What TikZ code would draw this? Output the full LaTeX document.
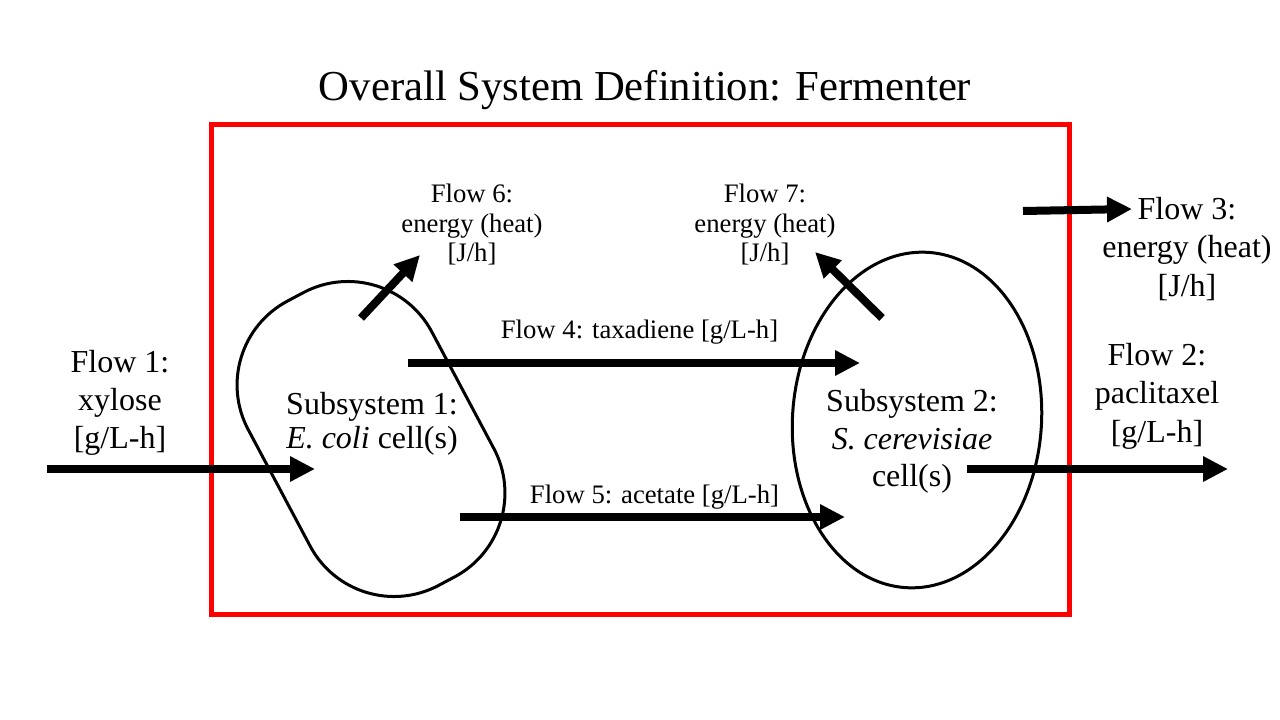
\documentclass[tikz,border=0pt]{standalone}
\usepackage{fontspec}
\setmainfont{Liberation Serif}
\usetikzlibrary{arrows.meta,shapes.geometric}
\begin{document}
\begin{tikzpicture}[x=1pt,y=-1pt,
  flow/.style={line width=8pt, -{Triangle[length=25pt,width=24pt]}},
  bigtxt/.style={font=\fontsize{32}{38.5}\selectfont, align=center, inner sep=0pt},
  smalltxt/.style={font=\fontsize{26.7}{29.5}\selectfont, align=center, inner sep=0pt},
  cellshape/.style={draw, line width=3pt, inner sep=0pt}]
\useasboundingbox (0,0) rectangle (1280,720);
% title
\node[font=\fontsize{42.7}{50}\selectfont, anchor=base, inner sep=0pt] (title) at (645,100) {Overall System Definition: Fermenter};
% system boundary
\node[draw=red, line width=5pt, minimum width=858pt, minimum height=490pt, inner sep=0pt] (sys) at (640,369) {};
% subsystems
\node[cellshape, rounded corners=95pt, minimum width=322pt, minimum height=208pt, rotate=-62] (sub1) at (371,439) {};
\node[cellshape, ellipse, minimum width=249pt, minimum height=336pt, rotate=-4] (sub2) at (917,420) {};
% subsystem labels
\node[bigtxt, font=\fontsize{32}{34}\selectfont] (lab1) at (372,423.5) {Subsystem 1:\\\textit{E.~coli} cell(s)};
\node[bigtxt, font=\fontsize{32}{37.5}\selectfont] (lab2) at (912,441.5) {Subsystem 2:\\\textit{S.~cerevisiae}\\cell(s)};
% flow labels
\node[bigtxt, font=\fontsize{32}{38}\selectfont] (f1) at (120,402.5) {Flow 1:\\xylose\\{[g/L-h]}};
\node[bigtxt] (f2) at (1157,396) {Flow 2:\\paclitaxel\\{[g/L-h]}};
\node[bigtxt] (f3) at (1187,249) {Flow 3:\\energy (heat)\\{[J/h]}};
\node[smalltxt, font=\fontsize{26.7}{29.3}\selectfont, anchor=base, inner sep=0pt] (f4) at (639.5,338) {Flow 4: taxadiene [g/L-h]};
\node[smalltxt, font=\fontsize{26.7}{29.3}\selectfont, anchor=base, inner sep=0pt] (f5) at (654.5,503) {Flow 5: acetate [g/L-h]};
\node[smalltxt] (f6) at (472,225) {Flow 6:\\energy (heat)\\{[J/h]}};
\node[smalltxt] (f7) at (765,225) {Flow 7:\\energy (heat)\\{[J/h]}};
% arrow end points
\coordinate (a1s) at (47,469);   \coordinate (a1e) at (315,469);
\coordinate (a2s) at (967,469);  \coordinate (a2e) at (1228,469);
\coordinate (a3s) at (1023,211); \coordinate (a3e) at (1132,209);
\coordinate (a4s) at (408,363);  \coordinate (a4e) at (860,363);
\coordinate (a5s) at (460,517);  \coordinate (a5e) at (845,517);
\coordinate (a6s) at (361,318);  \coordinate (a6e) at (420,255);
\coordinate (a7s) at (882,318);  \coordinate (a7e) at (815,252);
% arrows
\draw[flow] (a1s) -- (a1e);
\draw[flow] (a2s) -- (a2e);
\draw[flow] (a3s) -- (a3e);
\draw[flow] (a4s) -- (a4e);
\draw[flow] (a5s) -- (a5e);
\draw[flow] (a6s) -- (a6e);
\draw[flow] (a7s) -- (a7e);
\end{tikzpicture}
\end{document}
